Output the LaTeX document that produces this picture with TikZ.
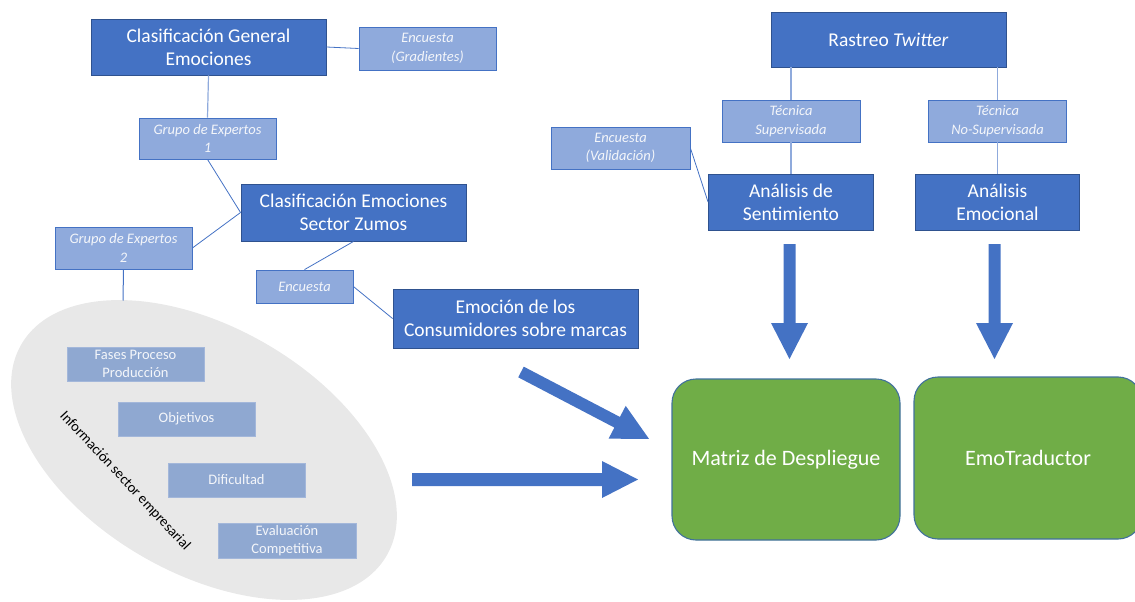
\documentclass[tikz,border=0pt]{standalone}
\usepackage{fontspec}
\setmainfont{Carlito}
\usetikzlibrary{calc}

\definecolor{mainblue}{HTML}{4472C4}
\definecolor{edgeblue}{HTML}{2F528F}
\definecolor{paleblue}{HTML}{8FAADC}
\definecolor{greyblue}{HTML}{8FA8D1}
\definecolor{greyblueedge}{HTML}{A3B7DA}
\definecolor{leafgreen}{HTML}{70AD47}
\definecolor{greenedge}{HTML}{41719C}
\definecolor{cloud}{HTML}{E8E8E8}
\definecolor{softwhite}{HTML}{F4F6FA}

\tikzset{
  darkbox/.style={draw=edgeblue, line width=0.9pt, fill=mainblue, text=white,
    align=center, inner sep=0pt, font=\fontsize{19.5}{23}\selectfont},
  lightbox/.style={draw=mainblue, line width=0.8pt, fill=paleblue, text=softwhite,
    align=center, inner sep=0pt, font=\fontsize{14.5}{18.5}\selectfont\itshape},
  infobox/.style={draw=greyblueedge, line width=0.8pt, fill=greyblue, text=softwhite,
    align=center, inner sep=0pt, font=\fontsize{14.5}{18.5}\selectfont},
  resultbox/.style={draw=greenedge, line width=1.1pt, fill=leafgreen, text=white,
    rounded corners=24pt, align=center, inner sep=0pt, font=\fontsize{22}{26}\selectfont},
  link/.style={draw=mainblue, line width=0.8pt},
  palelink/.style={draw=paleblue, line width=1.2pt},
  blockarrow/.style={fill=mainblue, draw=none}
}

\begin{document}
\begin{tikzpicture}[x=1pt,y=-1pt]
\useasboundingbox (0,0) rectangle (1135,602);

% business information cloud
\fill[cloud, rotate around={-30:(204,450)}] (204,450) ellipse [x radius=211, y radius=123];
\coordinate (cloudtop) at (123,300.5);

\node[infobox, minimum width=137pt, minimum height=34pt] (fases) at (135.5,364) {Fases Proceso\\Producción};
\node[infobox, minimum width=137pt, minimum height=34pt] (obj) at (186.5,419) {Objetivos};
\node[infobox, minimum width=137pt, minimum height=34pt] (dif) at (236.5,480) {Dificultad};
\node[infobox, minimum width=138pt, minimum height=35pt] (eval) at (287,540.5) {Evaluación\\Competitiva};
\node[rotate=-47, font=\fontsize{14.5}{17}\selectfont, text=black, inner sep=0pt] (infolabel) at (125,481) {Información sector empresarial};

% left-hand classification tree
\node[darkbox, minimum width=235pt, minimum height=56pt] (cge) at (208.5,47) {Clasificación General\\Emociones};
\node[lightbox, minimum width=137pt, minimum height=43pt] (encg) at (427.5,48.5) {Encuesta\\(Gradientes)};
\node[lightbox, minimum width=137pt, minimum height=41pt] (ge1) at (207.5,138.5) {Grupo de Expertos\\1};
\node[darkbox, minimum width=225pt, minimum height=57pt] (cesz) at (353.5,212.5) {Clasificación Emociones\\Sector Zumos};
\node[lightbox, minimum width=137pt, minimum height=42pt] (ge2) at (123.5,248) {Grupo de Expertos\\2};
\node[lightbox, minimum width=97pt, minimum height=33pt] (enc) at (304.5,286.5) {Encuesta};
\node[darkbox, minimum width=245pt, minimum height=59pt] (emo) at (515.5,318.5) {Emoción de los\\Consumidores sobre marcas};

\draw[palelink] (cge.south) -- (ge1.north);
\draw[link] (cge.east) -- (encg.west);
\draw[link] (ge1.south) -- (cesz.west);
\draw[link] (ge2.east) -- (cesz.west);
\draw[link] (cesz.south) -- (enc.north);
\draw[link] (enc.east) -- (emo.west);
\draw[link, line width=1pt] (ge2.south) -- (cloudtop);

% right-hand Twitter branch
\node[darkbox, minimum width=235pt, minimum height=55pt] (rast) at (888.5,39.5) {Rastreo \textit{Twitter}};
\node[lightbox, minimum width=138pt, minimum height=42pt] (ts) at (791,121) {Técnica\\Supervisada};
\node[lightbox, minimum width=138pt, minimum height=42pt] (tns) at (997.5,121) {Técnica\\No-Supervisada};
\node[lightbox, minimum width=139pt, minimum height=42pt] (encv) at (620.5,148) {Encuesta\\(Validación)};
\node[darkbox, minimum width=165pt, minimum height=56pt] (as) at (791,202) {Análisis de\\Sentimiento};
\node[darkbox, minimum width=164pt, minimum height=56pt] (ae) at (997.5,202) {Análisis\\Emocional};

\draw[palelink] (ts.north |- rast.south) -- (ts.north);
\draw[palelink] (tns.north |- rast.south) -- (tns.north);
\draw[palelink] (ts.south) -- (as.north);
\draw[palelink] (tns.south) -- (ae.north);
\draw[link] (encv.east) -- (as.west);

% results
\node[resultbox, minimum width=228pt, minimum height=161pt] (matriz) at (786,459.5) {Matriz de Despliegue};
\node[resultbox, minimum width=228pt, minimum height=162pt] (emot) at (1028,458) {EmoTraductor};

% block arrows
\fill[blockarrow] (783.5,244) -- (795.5,244) -- (795.5,323) -- (808,323) -- (789.5,359)
  -- (771,323) -- (783.5,323) -- cycle;
\fill[blockarrow] (988.5,244) -- (1000.5,244) -- (1000.5,323) -- (1013,323) -- (994.5,359)
  -- (976,323) -- (988.5,323) -- cycle;
\fill[blockarrow] (412,473) -- (602,473) -- (602,461) -- (638,479.5) -- (602,498)
  -- (602,486) -- (412,486) -- cycle;
\begin{scope}[shift={(521,372)}, rotate=-27.6]
  \fill[blockarrow] (0,-6) -- (108.5,-6) -- (108.5,-18.5) -- (144.5,0) -- (108.5,18.5)
    -- (108.5,6) -- (0,6) -- cycle;
\end{scope}
\end{tikzpicture}
\end{document}
